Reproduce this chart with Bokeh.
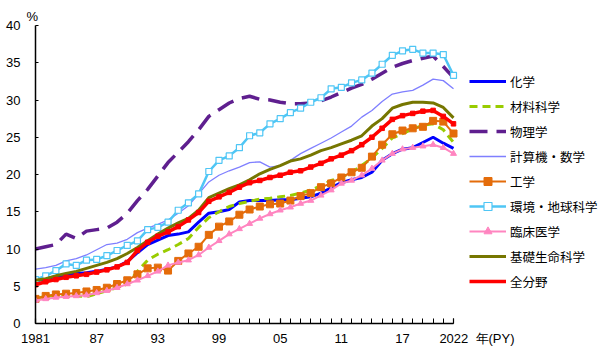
from bokeh.plotting import figure
from bokeh.models import Legend, LegendItem, FixedTicker, Range1d
from bokeh.embed import file_html
from bokeh.resources import INLINE

years = list(range(1981, 2023))

chemistry = [5.7, 6.0, 6.3, 6.5, 6.7, 6.8, 7.0, 7.3, 7.6, 8.3,
             9.5, 10.6, 11.2, 11.8, 12.0, 12.3, 13.6, 14.8, 15.0, 15.3,
             16.3, 16.5, 16.5, 16.5, 16.6, 16.6, 16.8, 17.0, 17.5, 18.2,
             18.9, 19.3, 19.6, 20.3, 21.9, 22.8, 23.4, 23.6, 24.3, 25.0,
             24.2, 23.5]
materials = [3.4, 3.6, 3.8, 3.7, 3.7, 3.6, 4.0, 4.4, 4.8, 5.3,
             7.0, 8.5, 9.3, 9.9, 10.6, 11.4, 12.9, 14.2, 15.0, 15.7,
             16.1, 16.4, 16.7, 16.8, 17.0, 17.2, 17.5, 17.9, 18.5, 19.2,
             19.6, 20.3, 21.2, 22.2, 23.5, 24.9, 25.5, 26.1, 26.6, 26.8,
             26.0, 24.3]
physics = [10.0, 10.3, 10.6, 12.0, 11.4, 12.4, 12.6, 12.8, 13.6, 14.8,
           16.5, 18.0, 19.8, 21.6, 23.0, 24.4, 26.0, 27.8, 28.7, 29.6,
           30.2, 30.5, 30.1, 30.0, 29.7, 29.5, 29.5, 29.6, 29.9, 30.4,
           31.0, 31.6, 32.1, 32.8, 33.6, 34.4, 34.9, 35.3, 35.6, 35.9,
           34.5, 33.0]
computer = [7.3, 7.5, 7.8, 8.4, 8.7, 9.2, 9.9, 10.6, 10.8, 11.3,
            12.2, 12.8, 13.3, 13.9, 14.8, 15.8, 17.4, 19.0, 19.9, 20.5,
            21.0, 21.6, 21.7, 21.0, 21.2, 21.9, 22.8, 23.5, 24.2, 24.9,
            25.7, 26.5, 27.7, 28.6, 29.8, 30.8, 31.1, 31.3, 32.0, 32.8,
            32.6, 31.5]
engineering = [3.3, 3.7, 3.9, 4.0, 4.1, 4.3, 4.5, 4.8, 5.3, 5.8,
               6.6, 7.4, 7.5, 7.1, 8.4, 9.4, 10.3, 11.9, 13.0, 13.7,
               14.6, 15.3, 15.7, 16.0, 16.1, 16.5, 17.1, 17.5, 18.3, 18.8,
               19.6, 20.3, 20.9, 22.4, 24.0, 25.4, 25.9, 26.2, 26.4, 27.2,
               27.1, 25.5]
environment = [5.9, 6.4, 7.1, 8.0, 7.8, 8.5, 8.6, 9.1, 9.8, 10.5,
               11.1, 12.6, 12.9, 13.6, 15.2, 16.2, 17.4, 20.4, 21.9, 22.5,
               23.6, 25.2, 25.6, 26.8, 27.5, 28.3, 28.9, 29.7, 30.3, 31.5,
               31.7, 32.3, 32.7, 33.6, 34.8, 36.0, 36.6, 36.8, 36.3, 36.3,
               36.1, 33.3]
clinical = [3.1, 3.3, 3.5, 3.6, 3.7, 3.8, 4.1, 4.4, 4.8, 5.3,
            5.8, 6.4, 7.0, 7.8, 8.2, 8.5, 9.2, 10.2, 11.1, 12.0,
            12.7, 13.4, 14.1, 14.7, 15.2, 15.6, 16.1, 16.5, 17.2, 17.9,
            18.8, 19.2, 19.9, 20.8, 21.9, 22.8, 23.4, 23.6, 23.8, 24.0,
            23.6, 22.8]
basic_life = [5.8, 6.0, 6.4, 6.7, 7.0, 7.4, 7.8, 8.2, 8.7, 9.4,
              10.2, 11.1, 12.0, 12.8, 13.5, 14.1, 15.2, 16.9, 17.5, 18.1,
              18.6, 19.3, 20.1, 20.7, 21.2, 21.8, 22.1, 22.6, 23.2, 23.6,
              24.1, 24.6, 25.2, 26.5, 27.5, 28.9, 29.4, 29.7, 29.7, 29.6,
              29.0, 27.6]
all_fields = [5.2, 5.6, 5.9, 6.2, 6.4, 6.6, 6.9, 7.2, 7.6, 8.2,
              9.8, 10.9, 11.7, 12.3, 13.0, 13.9, 14.9, 16.4, 17.0, 17.6,
              18.3, 18.9, 19.2, 19.6, 19.9, 20.3, 20.5, 21.0, 21.5, 22.1,
              22.6, 23.2, 24.0, 25.0, 26.2, 27.4, 27.9, 28.2, 28.5, 28.6,
              27.8, 26.8]

labels = ["化学", "材料科学", "物理学", "計算機・数学", "工学",
          "環境・地球科学", "臨床医学", "基礎生命科学", "全分野"]

x_tick_years = [1981, 1987, 1993, 1999, 2005, 2011, 2017, 2022]
x_tick_labels = ["1981", "87", "93", "99", "05", "11", "17", "2022"]
x_unit = "年(PY)"
y_unit = "%"
y_ticks = [0, 5, 10, 15, 20, 25, 30, 35, 40]

NUM_FONT = "Liberation Sans"
JP_FONT = "Noto Sans CJK JP"

# layout: data area 418 px wide for 1981-2022; frame extended to the right edge
LEFT, TOP, BOTTOM = 35, 25, 30
DATA_W = 418
FRAME_W = 600 - LEFT
x_end = years[0] + (years[-1] - years[0]) * FRAME_W / DATA_W

p = figure(width=600, height=353, output_backend="svg", toolbar_location=None,
           x_range=Range1d(years[0], x_end), y_range=Range1d(0, 40),
           min_border_left=LEFT, min_border_right=0, min_border_top=TOP,
           min_border_bottom=BOTTOM, title=y_unit)
p.outline_line_color = None
p.xgrid.grid_line_color = None
p.ygrid.grid_line_color = None
p.background_fill_color = "white"

# "%" unit above the y axis
p.title.align = "left"
p.title.offset = -9
p.title.standoff = 4
p.title.text_font = NUM_FONT
p.title.text_font_size = "13px"
p.title.text_font_style = "normal"
p.title.text_color = "black"

# x axis: last label carries the unit, padded so "2022" stays centred on its tick
overrides = {y: l for y, l in zip(x_tick_years, x_tick_labels)}
overrides[x_tick_years[-1]] = "\u00a0" * 13 + x_tick_labels[-1] + "\u00a0\u00a0" + x_unit

xa = p.xaxis[0]
xa.bounds = (years[0], years[-1])
xa.ticker = FixedTicker(ticks=x_tick_years, minor_ticks=years)
xa.major_label_overrides = overrides
xa.major_tick_in = 5
xa.major_tick_out = 0
xa.minor_tick_in = 5
xa.minor_tick_out = 0
xa.major_label_standoff = 7
xa.minor_tick_line_color = "black"
xa.minor_tick_line_width = 1

ya = p.yaxis[0]
ya.ticker = FixedTicker(ticks=y_ticks)
ya.major_tick_in = 3
ya.major_tick_out = 0
ya.minor_tick_line_color = None
ya.major_label_standoff = 15

for ax in (xa, ya):
    ax.axis_line_color = "black"
    ax.axis_line_width = 1.5
    ax.major_tick_line_color = "black"
    ax.major_tick_line_width = 1.2
    ax.major_label_text_font = NUM_FONT
    ax.major_label_text_font_size = "13px"
    ax.major_label_text_color = "black"

items = []

r = p.line(years, chemistry, line_color="#0000ff", line_width=3)
items.append(LegendItem(label=labels[0], renderers=[r]))

r = p.line(years, materials, line_color="#99cc00", line_width=3, line_dash="8 5")
items.append(LegendItem(label=labels[1], renderers=[r]))

r = p.line(years, physics, line_color="#5f1f8f", line_width=3.5, line_dash="18 9")
items.append(LegendItem(label=labels[2], renderers=[r]))

r = p.line(years, computer, line_color="#7f7fff", line_width=1.3)
items.append(LegendItem(label=labels[3], renderers=[r]))

r1 = p.line(years, engineering, line_color="#e46c0a", line_width=2)
r2 = p.scatter(years, engineering, marker="square", size=7, fill_color="#e46c0a",
               line_color="#e46c0a")
items.append(LegendItem(label=labels[4], renderers=[r1, r2]))

r1 = p.line(years, environment, line_color="#4fc6f5", line_width=2.5)
r2 = p.scatter(years, environment, marker="square", size=6, fill_color="white",
               line_color="#4fc6f5", line_width=1.2)
items.append(LegendItem(label=labels[5], renderers=[r1, r2]))

r1 = p.line(years, clinical, line_color="#ff85c0", line_width=2)
r2 = p.scatter(years, clinical, marker="triangle", size=6, fill_color="#ff85c0",
               line_color="#ff85c0")
items.append(LegendItem(label=labels[6], renderers=[r1, r2]))

r = p.line(years, basic_life, line_color="#767600", line_width=3)
items.append(LegendItem(label=labels[7], renderers=[r]))

r1 = p.line(years, all_fields, line_color="#ff0000", line_width=3.5)
p.scatter(years, all_fields, marker="square", size=4.5, fill_color="#ff0000",
          line_color="#ff0000")
items.append(LegendItem(label=labels[8], renderers=[r1]))

legend = Legend(items=items, location=(434, 32), orientation="vertical",
                glyph_width=37, glyph_height=20, label_height=20, spacing=5,
                label_standoff=4, padding=0, margin=0,
                border_line_color=None, background_fill_alpha=0,
                label_text_font=JP_FONT, label_text_font_size="12.5px",
                label_text_color="black")
p.add_layout(legend)

open("out.html", "w").write(file_html(p, INLINE))
